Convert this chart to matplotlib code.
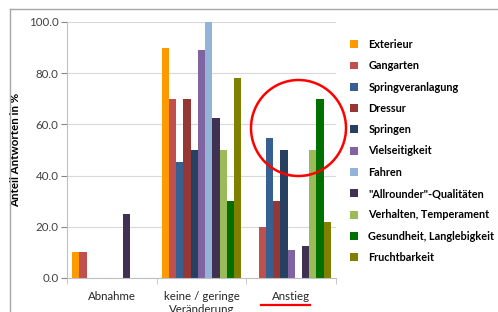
import numpy as np
import matplotlib
matplotlib.use("Agg")
import matplotlib.pyplot as plt
from matplotlib.patches import Patch, Ellipse
from matplotlib.lines import Line2D

plt.rcParams['font.family'] = ['Lato', 'DejaVu Sans']

categories = ["Abnahme", "keine / geringe\nVeränderung", "Anstieg"]
series = ["Exterieur", "Gangarten", "Springveranlagung", "Dressur", "Springen",
          "Vielseitigkeit", "Fahren", "\"Allrounder\"-Qualitäten",
          "Verhalten, Temperament", "Gesundheit, Langlebigkeit", "Fruchtbarkeit"]
colors = ["#FF9900", "#C0504D", "#376092", "#953735", "#254061", "#8064A2",
          "#95B3D7", "#403152", "#9BBB59", "#007000", "#808000"]

# values per category, one entry per series (in %)
abnahme = [10, 10, 0, 0, 0, 0, 0, 25, 0, 0, 0]
keine = [90, 70, 45.5, 70, 50, 89, 100, 62.5, 50, 30, 78]
anstieg = [0, 20, 54.5, 30, 50, 11, 0, 12.5, 50, 70, 22]
values = np.array([abnahme, keine, anstieg])

yticks = [0, 20, 40, 60, 80, 100]

fig = plt.figure(figsize=(4.98, 3.12), dpi=100)
W, H = 498, 312
ax = fig.add_axes([67 / W, 34 / H, 269 / W, 256 / H])

x = np.arange(len(categories))
n = len(series)
bw = 0.885 / n
for i in range(n):
    ax.bar(x - 0.885 / 2 + bw * (i + 0.5), values[:, i], width=bw,
           color=colors[i], label=series[i], zorder=2)

ax.set_xlim(-0.5, 2.5)
ax.set_ylim(0, 100)
ax.set_yticks(yticks)
ax.set_yticklabels(["%.1f" % v for v in yticks], fontsize=8.3, color="#404040")
ax.yaxis.grid(True, color="#D9D9D9", linewidth=0.8, zorder=0)
ax.tick_params(axis='y', length=4, color="#868686", pad=2)

ax.set_xticks(x)
ax.set_xticklabels(categories, fontsize=8.3, color="#262626", linespacing=1.25)
ax.tick_params(axis='x', length=0, pad=9)
ax.set_xticks([-0.5, 0.5, 1.5, 2.5], minor=True)
ax.tick_params(axis='x', which='minor', length=4, color="#C0C0C0")

for s in ['top', 'right']:
    ax.spines[s].set_visible(False)
ax.spines['left'].set_color("#C0C0C0")
ax.spines['bottom'].set_color("#C0C0C0")

ax.set_ylabel("Anteil Antworten in %", fontsize=8.3, fontweight='bold', labelpad=6)

handles = [Patch(facecolor=c, edgecolor='none') for c in colors]
leg = fig.legend(handles, series, loc='upper left',
                 bbox_to_anchor=(350 / W, 1 - 39 / H), frameon=False,
                 prop={'size': 7.8, 'weight': 'bold'},
                 handlelength=0.75, handleheight=0.75, handletextpad=0.95,
                 labelspacing=0.95, borderaxespad=0, borderpad=0)

# outer chart frame
fig.add_artist(Line2D([10 / W, 10 / W], [0, 1 - 9 / H], color="#A6A6A6", lw=1))
fig.add_artist(Line2D([10 / W, 1], [1 - 9 / H, 1 - 9 / H], color="#A6A6A6", lw=1))

# red highlight
fig.add_artist(Ellipse((298.5 / W, 1 - 128 / H), 95 / W, 96 / H,
                       fill=False, edgecolor="red", lw=1.8))
fig.add_artist(Line2D([261 / W, 310 / W], [1 - 305 / H, 1 - 305 / H],
                      color="red", lw=1.6))

fig.savefig("out.png", dpi=100)
